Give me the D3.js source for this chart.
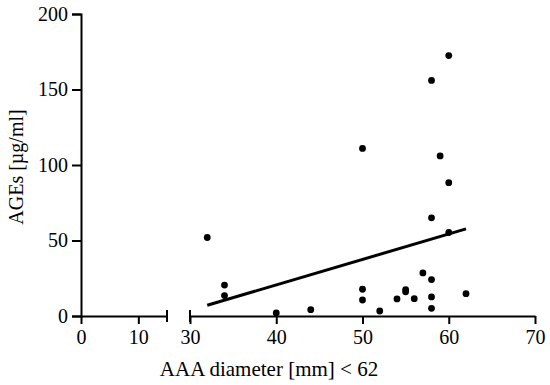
<!DOCTYPE html>
<html>
<head>
<meta charset="utf-8">
<script src="https://cdn.jsdelivr.net/npm/d3@7"></script>
<style>
  body { margin: 0; background: #fff; }
  svg { display: block; }
  text { font-family: "Liberation Serif", "Times New Roman", serif; fill: #000; }
</style>
</head>
<body>
<svg width="550" height="385"></svg>
<script>
// AAA diameter (mm) vs AGEs (ug/ml)
let diameter = [32, 34, 34, 40, 44, 50, 50, 50, 52, 54, 55, 55, 56, 57, 58, 58, 58, 58, 58, 59, 60, 60, 60, 62]
let ages     = [52, 20.5, 13.5, 2, 4.2, 111, 17.7, 10.6, 3.3, 11.3, 17.5, 16, 11.5, 28.5, 156, 65, 24.1, 12.6, 5.1, 106, 172.5, 88.3, 55.3, 14.8]

// regression line as drawn
let fitX = [32, 62]
let fitY = [7.1, 57.7]

let xTicksLeft = [0, 10]
let xTicksRight = [30, 40, 50, 60, 70]
let yTicks = [0, 50, 100, 150, 200]

let svg = d3.select('svg')

let y = d3.scaleLinear().domain([0, 200]).range([316, 14])
let xa = d3.scaleLinear().domain([0, 15]).range([81, 167])
let xb = d3.scaleLinear().domain([30, 70]).range([190, 535])

let x = v => v <= 15 ? xa(v) : xb(v)

// y axis
svg.append('g')
  .attr('transform', 'translate(81,0)')
  .call(d3.axisLeft(y).tickValues(yTicks).tickSize(9).tickPadding(4))

// left piece of x axis
svg.append('g')
  .attr('transform', 'translate(0,316)')
  .call(d3.axisBottom(xa).tickValues(xTicksLeft).tickSize(8).tickPadding(6).tickSizeOuter(0))

// right piece of x axis
svg.append('g')
  .attr('transform', 'translate(0,316)')
  .call(d3.axisBottom(xb).tickValues(xTicksRight).tickSize(8).tickPadding(6).tickSizeOuter(0))

svg.selectAll('g')
  .attr('font-family', 'Liberation Serif')
  .attr('font-size', 20)

svg.selectAll('.domain, .tick line')
  .attr('stroke', '#000')
  .attr('stroke-width', 2)

// break caps
let caps = [xa(15), xb(30)]
svg.append('g').selectAll('line')
  .data(caps)
  .enter().append('line')
  .attr('x1', d => d).attr('x2', d => d)
  .attr('y1', 310).attr('y2', 322)
  .attr('stroke', '#000')
  .attr('stroke-width', 2)

// regression line
svg.append('line')
  .attr('x1', x(fitX[0])).attr('y1', y(fitY[0]))
  .attr('x2', x(fitX[1])).attr('y2', y(fitY[1]))
  .attr('stroke', '#000')
  .attr('stroke-width', 3)

// points
svg.append('g').selectAll('circle')
  .data(diameter)
  .enter().append('circle')
  .attr('cx', d => x(d))
  .attr('cy', (d, i) => y(ages[i]))
  .attr('r', 3.4)
  .attr('fill', '#000')

// axis titles
svg.append('text')
  .attr('x', 269)
  .attr('y', 376)
  .attr('text-anchor', 'middle')
  .attr('font-size', 21)
  .text('AAA diameter [mm] < 62')

svg.append('text')
  .attr('transform', 'translate(23,167) rotate(-90)')
  .attr('text-anchor', 'middle')
  .attr('font-size', 20)
  .text('AGEs [µg/ml]')
</script>
</body>
</html>
